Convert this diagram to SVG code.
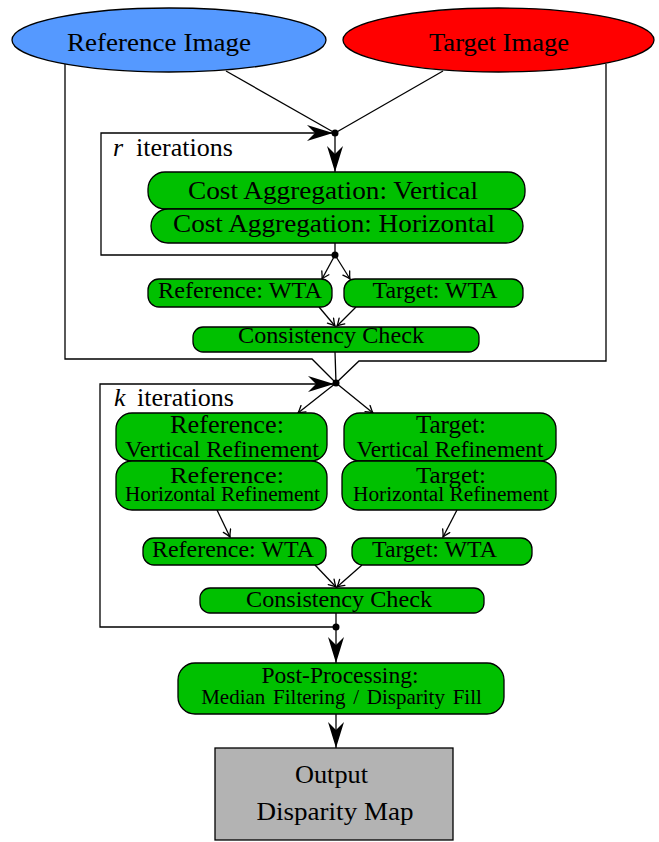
<svg xmlns="http://www.w3.org/2000/svg" width="659" height="842" viewBox="0 0 659 842">
<style>
  text { font-family: "Liberation Serif", "Times New Roman", serif; fill: #000; }
  .box { fill: #00c000; stroke: #000; stroke-width: 1.3; }
  .ln { fill: none; stroke: #000; stroke-width: 1.3; }
  .big { marker-end: url(#bigArrow); }
  .sm { marker-end: url(#smArrow); }
</style>
<defs>
  <marker id="bigArrow" markerUnits="userSpaceOnUse" viewBox="-28 -10 30 20" markerWidth="30" markerHeight="20" refX="0" refY="0" orient="auto">
    <path d="M0,0 L-26,-8 L-18,0 L-26,8 Z" fill="#000"/>
  </marker>
  <marker id="smArrow" markerUnits="userSpaceOnUse" viewBox="-9 -5 10 10" markerWidth="10" markerHeight="10" refX="0" refY="0" orient="auto">
    <path d="M-7,-4 Q-2.5,-1 0,0 Q-2.5,1 -7,4" fill="none" stroke="#000" stroke-width="1.3" stroke-linecap="round"/>
  </marker>
</defs>

<g id="connectors">
  <path class="ln" d="M226,71 L335,133"/>
  <path class="ln" d="M443,71 L335,133"/>
  <path class="ln big" d="M335,255 L101,255 L101,133 L333,133"/>
  <path class="ln big" d="M335,133 L335,172"/>
  <path class="ln" d="M335,243 L335,255"/>
  <path class="ln sm" d="M335,255 L322,279"/>
  <path class="ln sm" d="M335,255 L350,279"/>
  <path class="ln sm" d="M319,307 L335,326"/>
  <path class="ln sm" d="M356,307 L337,326"/>
  <path class="ln" d="M335,352 L336,383"/>
  <path class="ln" d="M65,64 L65,359 L312,359 L336,383"/>
  <path class="ln" d="M606,64 L606,361 L359,361 L336,383"/>
  <path class="ln big" d="M336,627 L100,627 L100,384 L334,384"/>
  <path class="ln sm" d="M336,383 L298,413"/>
  <path class="ln sm" d="M336,383 L373,413"/>
  <path class="ln sm" d="M217,510 L230,537"/>
  <path class="ln sm" d="M457,510 L443,537"/>
  <path class="ln sm" d="M315,565 L336,587"/>
  <path class="ln sm" d="M362,565 L337,587"/>
  <path class="ln" d="M336,613 L336,627"/>
  <path class="ln big" d="M336,627 L336,663"/>
  <path class="ln big" d="M336,714 L336,748"/>
  <circle cx="335" cy="133" r="3.5" fill="#000"/>
  <circle cx="335" cy="255" r="3.5" fill="#000"/>
  <circle cx="336" cy="383" r="3.5" fill="#000"/>
  <circle cx="336" cy="627" r="3.5" fill="#000"/>
  <text x="113" y="156" font-size="26"><tspan font-style="italic">r</tspan><tspan x="136">iterations</tspan></text>
  <text x="114" y="406" font-size="26"><tspan font-style="italic">k</tspan><tspan x="137">iterations</tspan></text>
</g>

<g id="reference-image">
  <ellipse cx="169" cy="40" rx="157" ry="32" fill="#5599ff" stroke="#000" stroke-width="1.3"/>
  <text x="159" y="50.5" font-size="26" text-anchor="middle" textLength="184" lengthAdjust="spacingAndGlyphs">Reference Image</text>
</g>
<g id="target-image">
  <ellipse cx="498.5" cy="40" rx="155.5" ry="32" fill="#ff0000" stroke="#000" stroke-width="1.3"/>
  <text x="499" y="50.5" font-size="26" text-anchor="middle" textLength="140" lengthAdjust="spacingAndGlyphs">Target Image</text>
</g>

<g id="cost-agg-vertical">
  <rect class="box" x="148" y="172" width="377" height="37" rx="17"/>
  <text x="333" y="199" font-size="26" text-anchor="middle" textLength="290" lengthAdjust="spacingAndGlyphs">Cost Aggregation: Vertical</text>
</g>
<g id="cost-agg-horizontal">
  <rect class="box" x="151" y="209" width="372" height="34" rx="17"/>
  <text x="334" y="232.3" font-size="26" text-anchor="middle" textLength="322" lengthAdjust="spacingAndGlyphs">Cost Aggregation: Horizontal</text>
</g>

<g id="ref-wta-1">
  <rect class="box" x="148" y="279" width="184" height="28" rx="11"/>
  <text x="240" y="298.3" font-size="23.5" text-anchor="middle" textLength="164" lengthAdjust="spacingAndGlyphs">Reference: WTA</text>
</g>
<g id="tgt-wta-1">
  <rect class="box" x="344" y="279" width="179" height="28" rx="11"/>
  <text x="435" y="298.3" font-size="23.5" text-anchor="middle" textLength="125" lengthAdjust="spacingAndGlyphs">Target: WTA</text>
</g>
<g id="consistency-1">
  <rect class="box" x="193" y="327" width="286" height="25" rx="10"/>
  <text x="331" y="343.3" font-size="24" text-anchor="middle" textLength="186" lengthAdjust="spacingAndGlyphs">Consistency Check</text>
</g>

<g id="ref-vertical-refinement">
  <rect class="box" x="116" y="413" width="211" height="48" rx="16"/>
  <text x="227" y="433" font-size="24.5" text-anchor="middle" textLength="114" lengthAdjust="spacingAndGlyphs">Reference:</text>
  <text x="222" y="456.5" font-size="22.5" text-anchor="middle" textLength="194" lengthAdjust="spacingAndGlyphs">Vertical Refinement</text>
</g>
<g id="ref-horizontal-refinement">
  <rect class="box" x="116" y="461" width="211" height="49" rx="16"/>
  <text x="227" y="483" font-size="23" text-anchor="middle" textLength="114" lengthAdjust="spacingAndGlyphs">Reference:</text>
  <text x="222.5" y="501" font-size="20" text-anchor="middle" textLength="195" lengthAdjust="spacingAndGlyphs">Horizontal Refinement</text>
</g>
<g id="tgt-vertical-refinement">
  <rect class="box" x="344" y="413" width="212" height="48" rx="16"/>
  <text x="451" y="433" font-size="24.5" text-anchor="middle" textLength="70" lengthAdjust="spacingAndGlyphs">Target:</text>
  <text x="450" y="456.5" font-size="22.5" text-anchor="middle" textLength="187" lengthAdjust="spacingAndGlyphs">Vertical Refinement</text>
</g>
<g id="tgt-horizontal-refinement">
  <rect class="box" x="342" y="461" width="214" height="49" rx="16"/>
  <text x="451" y="483" font-size="23" text-anchor="middle" textLength="70" lengthAdjust="spacingAndGlyphs">Target:</text>
  <text x="451" y="501" font-size="20" text-anchor="middle" textLength="196" lengthAdjust="spacingAndGlyphs">Horizontal Refinement</text>
</g>

<g id="ref-wta-2">
  <rect class="box" x="143" y="538" width="183" height="27" rx="11"/>
  <text x="233" y="556.7" font-size="23.5" text-anchor="middle" textLength="162" lengthAdjust="spacingAndGlyphs">Reference: WTA</text>
</g>
<g id="tgt-wta-2">
  <rect class="box" x="352" y="538" width="180" height="27" rx="11"/>
  <text x="434.5" y="556.7" font-size="23.5" text-anchor="middle" textLength="125" lengthAdjust="spacingAndGlyphs">Target: WTA</text>
</g>
<g id="consistency-2">
  <rect class="box" x="200" y="588" width="284" height="25" rx="10"/>
  <text x="339" y="606.7" font-size="24" text-anchor="middle" textLength="186" lengthAdjust="spacingAndGlyphs">Consistency Check</text>
</g>

<g id="post-processing">
  <rect class="box" x="178" y="663" width="326" height="51" rx="17"/>
  <text x="340" y="683" font-size="23.5" text-anchor="middle" textLength="157" lengthAdjust="spacingAndGlyphs">Post-Processing:</text>
  <text x="341.5" y="704" font-size="21" text-anchor="middle" word-spacing="2.5">Median Filtering / Disparity Fill</text>
</g>

<g id="output">
  <rect x="215" y="748" width="238" height="92" fill="#b3b3b3" stroke="#000" stroke-width="1.3"/>
  <text x="331.5" y="783" font-size="26" text-anchor="middle" textLength="73" lengthAdjust="spacingAndGlyphs">Output</text>
  <text x="335" y="820" font-size="26" text-anchor="middle" textLength="157" lengthAdjust="spacingAndGlyphs">Disparity Map</text>
</g>
</svg>
